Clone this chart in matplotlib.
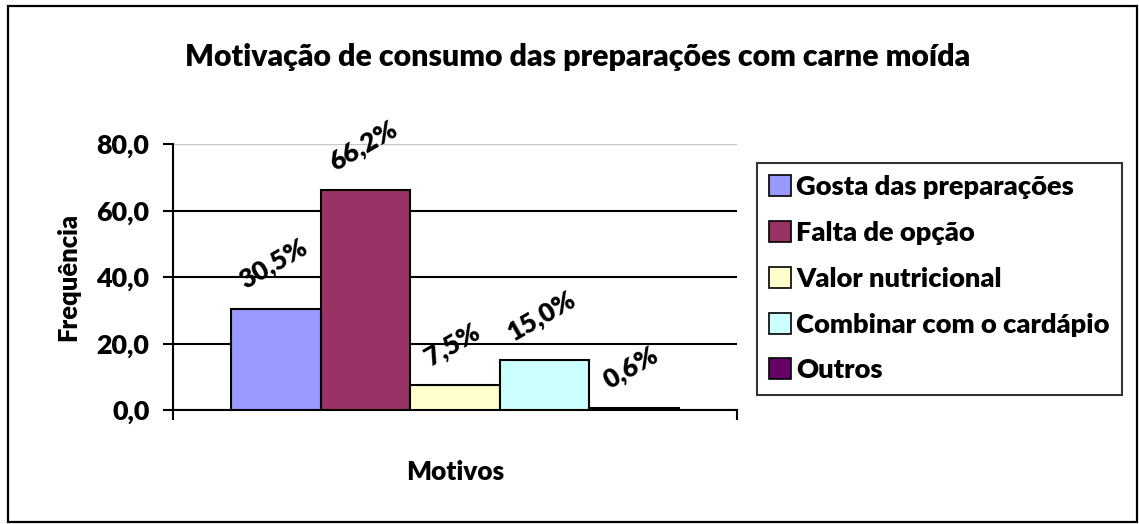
import matplotlib.pyplot as plt
from matplotlib.patches import Rectangle, Patch

plt.rcParams['font.family'] = ['Lato', 'DejaVu Sans']
plt.rcParams['font.weight'] = 'heavy'

titulo = 'Motivação de consumo das preparações com carne moída'
motivos = ['Gosta das preparações', 'Falta de opção', 'Valor nutricional',
           'Combinar com o cardápio', 'Outros']
frequencia = [30.5, 66.2, 7.5, 15.0, 0.6]
rotulos = ['30,5%', '66,2%', '7,5%', '15,0%', '0,6%']
cores = ['#9999FF', '#993366', '#FFFFCC', '#CCFFFF', '#660066']
yticks = [0, 20, 40, 60, 80]
ytick_labels = ['0,0', '20,0', '40,0', '60,0', '80,0']

W, H = 1139, 524
fig = plt.figure(figsize=(W / 100, H / 100), dpi=100)
peso = 'heavy'

# frame around whole chart
fig.patches.append(Rectangle((8 / W, 1 - 522 / H), 1129 / W, 516 / H,
                             transform=fig.transFigure, fill=False,
                             edgecolor='black', linewidth=1.6))

ax = fig.add_axes([173 / W, 1 - 410 / H, 564 / W, 266 / H])

n = len(frequencia)
largura = 0.7926 / n
inicio = -0.7926 / 2
for i in range(n):
    x = inicio + largura * (i + 0.5)
    ax.bar(x, frequencia[i], width=largura, color=cores[i],
           edgecolor='black', linewidth=1.5, zorder=3)
    ax.annotate(rotulos[i], (x, frequencia[i]), xytext=(-2, 11),
                textcoords='offset points', ha='center', va='bottom',
                rotation=30, fontsize=19, fontweight=peso, zorder=4)

ax.set_xlim(-0.5, 0.5)
ax.set_ylim(0, 80)
ax.set_yticks(yticks)
ax.set_yticklabels(ytick_labels, fontsize=19.4, fontweight=peso)
ax.set_xticks([-0.5, 0.5])
ax.set_xticklabels([])
ax.tick_params(axis='y', direction='out', length=7, width=1.5, pad=10)
ax.tick_params(axis='x', direction='out', length=7, width=1.5)
ax.yaxis.grid(True, color='black', linewidth=1.5, zorder=0)
ax.set_axisbelow(True)
ax.get_ygridlines()[-1].set_color('#c8c8c8')
ax.get_ygridlines()[-1].set_linewidth(1.0)
for s in ['top', 'right']:
    ax.spines[s].set_visible(False)
for s in ['left', 'bottom']:
    ax.spines[s].set_linewidth(1.5)

fig.text(578 / W, 1 - 57 / H, titulo, ha='center', va='center',
         fontsize=21.8, fontweight=peso)
fig.text(68 / W, 1 - 277 / H, 'Frequência', ha='center', va='center',
         rotation=90, fontsize=18.4, fontweight=peso)
fig.text(455 / W, 1 - 472 / H, 'Motivos', ha='center', va='center',
         fontsize=18.8, fontweight=peso)

handles = [Patch(facecolor=c, edgecolor='black', linewidth=1.2) for c in cores]
leg = fig.legend(handles, motivos, loc='upper left',
                 bbox_to_anchor=(757 / W, 1 - 163 / H),
                 prop={'weight': peso, 'size': 19.6},
                 frameon=True, fancybox=False, edgecolor='black',
                 handlelength=0.8, handleheight=0.8, handletextpad=0.2,
                 labelspacing=0.8, borderpad=0.45, borderaxespad=0)
leg.get_frame().set_linewidth(1.5)

fig.savefig('out.png', dpi=100)
